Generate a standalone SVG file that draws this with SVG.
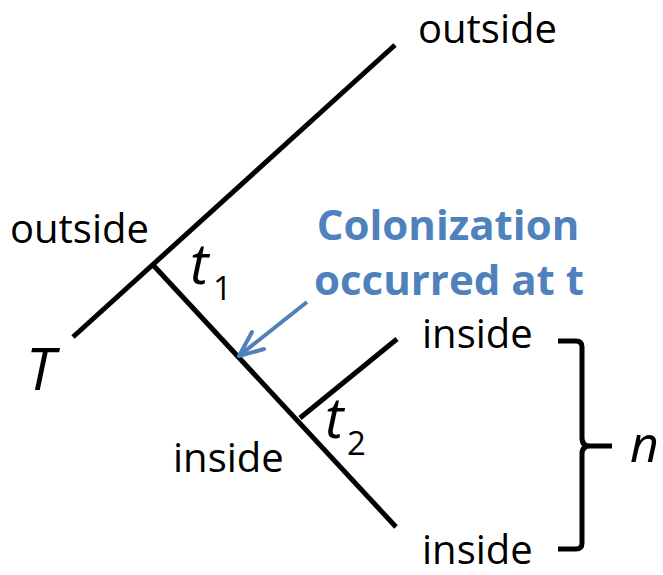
<svg xmlns="http://www.w3.org/2000/svg" width="663" height="575" viewBox="0 0 663 575">
<style>
.br{stroke:#000;stroke-width:5;fill:none;stroke-linecap:butt}
.lbl{font-family:"Open Sans","Liberation Sans",sans-serif;font-size:40px;fill:#000}
.sub{font-family:"Open Sans","Liberation Sans",sans-serif;font-size:33px;fill:#000}
.it{font-family:"Open Sans","Liberation Sans",sans-serif;font-style:italic;fill:#000}
.blue{font-family:"Open Sans","Liberation Sans",sans-serif;font-weight:bold;font-size:42px;fill:#4F81BD}
</style>
<rect width="663" height="575" fill="#fff"/>
<g id="connectors">
<path class="br" d="M73,337 L395,45"/>
<path class="br" d="M154,266 L396,527"/>
<path class="br" d="M300,418 L397,339"/>
<path d="M307,302 L240,355" stroke="#4F81BD" stroke-width="4" fill="none"/>
<path d="M252,332 L239,356 L264,349" stroke="#4F81BD" stroke-width="4" fill="none" stroke-linecap="round" stroke-linejoin="round"/>
<path class="br" d="M558,341 L576,341 Q582,341 582,347 L582,438 Q582,446 590,446 L612,446 M590,446 Q582,446 582,454 L582,543 Q582,549 576,549 L558,549"/>
</g>
<g id="top-outside"><text class="lbl" x="418" y="43">outside</text></g>
<g id="left-outside"><text class="lbl" x="10" y="243">outside</text></g>
<g id="inside-top"><text class="lbl" x="422" y="348">inside</text></g>
<g id="inside-mid"><text class="lbl" x="173" y="472">inside</text></g>
<g id="inside-bottom"><text class="lbl" x="422" y="564">inside</text></g>
<g id="T"><text class="it" x="26" y="390" font-size="58">T</text></g>
<g id="t1"><text class="it" x="190" y="284" font-size="56">t</text><text class="sub" x="213" y="300">1</text></g>
<g id="t2"><text class="it" x="325" y="438" font-size="56">t</text><text class="sub" x="347" y="455">2</text></g>
<g id="n"><text class="it" x="630" y="462" font-size="50">n</text></g>
<g id="colonization"><text class="blue" x="448" y="240" text-anchor="middle">Colonization</text><text class="blue" x="449" y="295" text-anchor="middle">occurred at t</text></g>
</svg>
